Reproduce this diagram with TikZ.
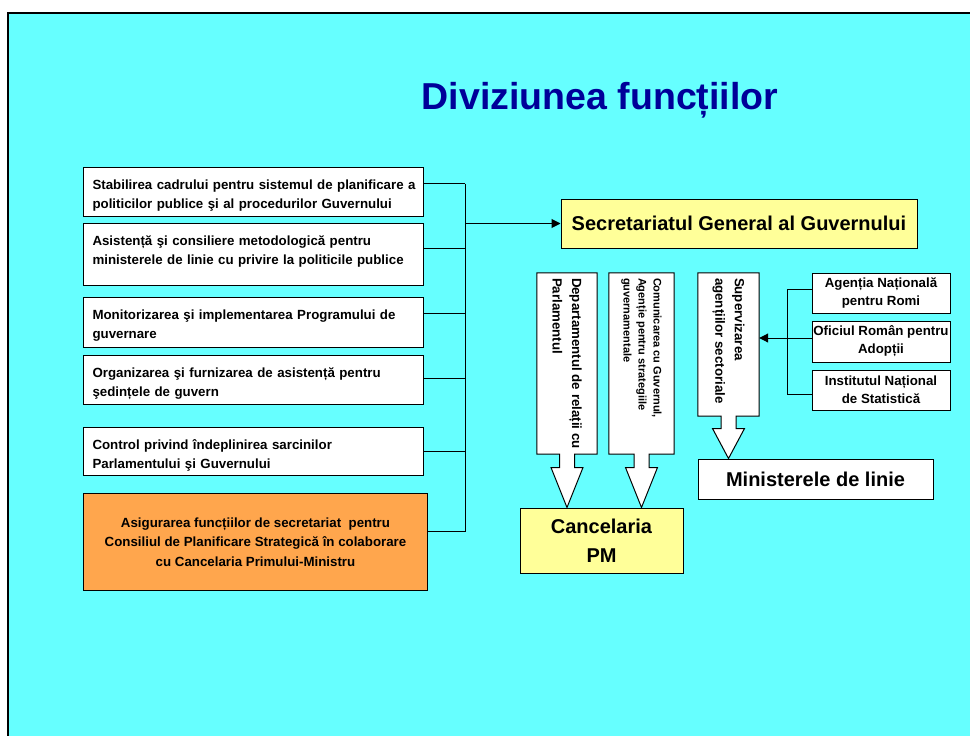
\documentclass[tikz,border=0pt]{standalone}
\usepackage{fontspec}
\setmainfont{Liberation Sans}
\usepackage{tikz}
\usetikzlibrary{positioning, calc, arrows.meta}
\definecolor{slidecyan}{RGB}{102,255,255}
\definecolor{titleblue}{RGB}{0,0,153}
\definecolor{noteyellow}{RGB}{255,255,153}
\definecolor{taskorange}{RGB}{255,166,77}

% box with a block arrow under it: box, target, head length
\newcommand{\downcallout}[3]{%
  \draw[callout] (#1.north west) -- (#1.north east) -- (#1.south east)
    -- ($(#1.south)+(7.5,0)$)
    -- ($(#1.south |- #2.north)+(7.5,-#3)$)
    -- ($(#1.south |- #2.north)+(16,-#3)$)
    -- (#1.south |- #2.north)
    -- ($(#1.south |- #2.north)+(-16,-#3)$)
    -- ($(#1.south |- #2.north)+(-7.5,-#3)$)
    -- ($(#1.south)+(-7.5,0)$)
    -- (#1.south west) -- cycle;}

\begin{document}
\begin{tikzpicture}[
  x=1pt, y=-1pt,
  font=\bfseries\fontsize{13.3}{19.5}\selectfont,
  line/.style={draw=black,line width=1pt},
  arr/.style={line,-{Triangle[length=9pt,width=9pt]}},
  task/.style={draw=black,line width=1pt,fill=white,anchor=north west,
               text width=322pt,inner xsep=9pt,inner ysep=0pt,
               align=left,text height=21.5pt},
  unit/.style={draw=black,line width=1pt,inner sep=0pt,align=center},
  agency/.style={unit,fill=white,minimum width=138pt,minimum height=40pt,
                 font=\bfseries\fontsize{13.3}{18}\selectfont},
  slot/.style={inner sep=0pt},
  callout/.style={draw=black,line width=1pt,fill=white},
  vtext/.style={rotate=-90,inner sep=0pt,align=left,anchor=west}
]
  \useasboundingbox (0,0) rectangle (970,736);
  \fill[white] (0,0) rectangle (970,736);
  \fill[slidecyan] (8,13) rectangle (970,736);
  \draw[line width=2pt] (8,736) -- (8,13) -- (970,13);

  \node[font=\bfseries\fontsize{37.5}{40}\selectfont,text=titleblue] (title)
    at (600,100) {Diviziunea funcțiilor};

  % left column
  \node[task,text depth=27.5pt] (b1) at (83,167)
    {\mbox{Stabilirea cadrului pentru sistemul de planificare a}\\
     politicilor publice şi al procedurilor Guvernului};
  \node[task,text depth=40.5pt,below=6pt of b1.south west,anchor=north west] (b2)
    {Asistență şi consiliere metodologică pentru\\
     ministerele de linie cu privire la politicile publice};
  \node[task,text depth=28.5pt,below=11pt of b2.south west,anchor=north west] (b3)
    {Monitorizarea şi implementarea Programului de\\guvernare};
  \node[task,text depth=27.5pt,below=7pt of b3.south west,anchor=north west] (b4)
    {Organizarea şi furnizarea de asistență pentru\\şedințele de guvern};
  \node[task,text depth=26.5pt,below=22pt of b4.south west,anchor=north west] (b5)
    {Control privind îndeplinirea sarcinilor\\Parlamentului şi Guvernului};
  \node[unit,fill=taskorange,minimum width=344pt,minimum height=97pt,
        below=17pt of b5.south west,anchor=north west] (fx)
    {Asigurarea funcțiilor de secretariat\ \ pentru\\
     Consiliul de Planificare Strategică în colaborare\\
     cu Cancelaria Primului-Ministru};

  \node[unit,fill=noteyellow,minimum width=356pt,minimum height=49pt,
        font=\bfseries\fontsize{20}{24}\selectfont] (sgg)
    at (739,223.5) {Secretariatul General al Guvernului};

  \coordinate (bus) at (465,0);
  \foreach \n/\dy in {b1/8.5,b2/6,b3/9,b4/1.5,b5/0,fx/10.5}{
    \coordinate (s\n) at ([yshift=\dy pt]\n.east);
    \draw[line] (s\n) -- (s\n -| bus);
  }
  \draw[line] (sb1 -| bus) -- (sfx -| bus);
  \draw[arr] (bus |- sgg.west) -- (sgg.west);

  % targets
  \node[unit,fill=noteyellow,minimum width=163pt,minimum height=65pt,
        font=\bfseries\fontsize{20}{29}\selectfont] (canc)
    at (601.5,540.5) {Cancelaria\\PM};
  \node[unit,fill=white,minimum width=235pt,minimum height=40pt,
        font=\bfseries\fontsize{20}{24}\selectfont] (min)
    at (815.5,479) {Ministerele de linie};

  % arrow boxes
  \node[slot,minimum width=60pt,minimum height=181pt] (dept) at (567,363.5) {};
  \node[slot,minimum width=65pt,minimum height=181pt] (comm) at (641.5,363.5) {};
  \node[slot,minimum width=61pt,minimum height=143pt] (sup) at (728.5,344.5) {};
  \downcallout{dept}{canc}{40}
  \downcallout{comm}{canc}{40}
  \downcallout{sup}{min}{30}
  \node[vtext] (depttxt) at ([yshift=-5pt]dept.north)
    {Departamentul de relații cu\\Parlamentul};
  \node[vtext,font=\bfseries\fontsize{11}{15}\selectfont] (commtxt)
    at ([yshift=-5pt]comm.north)
    {Comunicarea cu Guvernul,\\Agenție pentru strategiile\\guvernamentale};
  \node[vtext] (suptxt) at ([yshift=-5pt]sup.north)
    {Supervizarea\\agențiilor sectoriale};

  % agencies
  \node[agency] (ag1) at (881,293) {Agenția Națională\\pentru Romi};
  \node[agency,minimum height=41pt] (ag2) at (881,341.5) {Oficiul Român pentru\\Adopții};
  \node[agency] (ag3) at (881,390) {Institutul Național\\de Statistică};

  \coordinate (brk) at (787,0);
  \coordinate (t1) at ([yshift=4pt]ag1.west);
  \coordinate (t2) at ([yshift=3.5pt]ag2.west);
  \coordinate (t3) at ([yshift=-4pt]ag3.west);
  \draw[line] (t1) -- (t1 -| brk) -- (t3 -| brk) -- (t3);
  \draw[arr] (t2) -- (t2 -| sup.east);
\end{tikzpicture}
\end{document}
